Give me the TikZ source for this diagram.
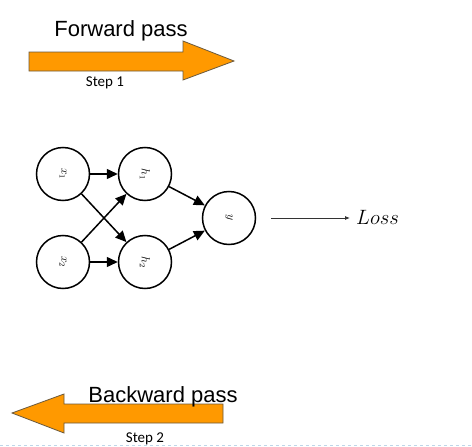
\documentclass[tikz,border=0pt]{standalone}
\usepackage{fontspec}
\setmainfont{Liberation Sans}
\newfontfamily\calfont{Carlito}
\usetikzlibrary{arrows.meta}
\definecolor{passorange}{HTML}{FF9900}
\definecolor{passedge}{HTML}{6B5A3E}
\definecolor{gridblue}{HTML}{BFD6E8}
\begin{document}
\begin{tikzpicture}[x=1pt,y=-1pt,
  passarrow/.style={fill=passorange,draw=passedge,line width=0.8pt,line join=miter},
  neuron/.style={circle,draw=black,line width=1.5pt,minimum size=53pt,inner sep=0pt,fill=white,font=\fontsize{12}{14}\selectfont},
  conn/.style={line width=1.5pt,-{Triangle[length=11pt,width=10pt]}},
  biglabel/.style={font=\fontsize{22}{24}\selectfont,inner sep=0pt,anchor=base},
  steplabel/.style={font=\calfont\fontsize{15}{17}\selectfont,inner sep=0pt,anchor=base}]
\useasboundingbox (0,0) rectangle (472,447);
\fill[white] (0,0) rectangle (472,447);
% forward arrow
\draw[passarrow] (29,52) -- (183,52) -- (183,41) -- (234,61) -- (183,80) -- (183,71) -- (29,71) -- cycle;
\node[biglabel] (fwd) at (121,36) {Forward pass};
\node[steplabel] (s1) at (105,86) {Step 1};
% network
\node[neuron] (x1) at (63,174) {\rotatebox{-90}{$x_1$}};
\node[neuron] (h1) at (145,174) {\rotatebox{-90}{$h_1$}};
\node[neuron] (x2) at (63,262) {\rotatebox{-90}{$x_2$}};
\node[neuron] (h2) at (145,262) {\rotatebox{-90}{$h_2$}};
\node[neuron] (yy) at (229,218) {\rotatebox{-90}{$y$}};
\draw[conn] (x1) -- (h1);
\draw[conn] (x1) -- (h2);
\draw[conn] (x2) -- (h1);
\draw[conn] (x2) -- (h2);
\draw[conn] (h1) -- (yy);
\draw[conn] (h2) -- (yy);
% loss
\coordinate (ls) at (271,218);
\node[inner sep=0pt,anchor=west,font=\fontsize{20}{22}\selectfont] (loss) at (356,217) {$Loss$};
\draw[line width=0.8pt,draw=black!80,-{Latex[length=5pt,width=4pt]}] (ls) -- (350,218);
% backward arrow
\draw[passarrow] (223,404) -- (64,404) -- (64,394) -- (12,413) -- (64,433) -- (64,423) -- (223,423) -- cycle;
\node[biglabel] (bwd) at (163,402) {Backward pass};
\node[steplabel] (s2) at (145,442) {Step 2};
% grid line
\draw[gridblue,dashed,line width=0.6pt] (0,445) -- (472,445);
\end{tikzpicture}
\end{document}
